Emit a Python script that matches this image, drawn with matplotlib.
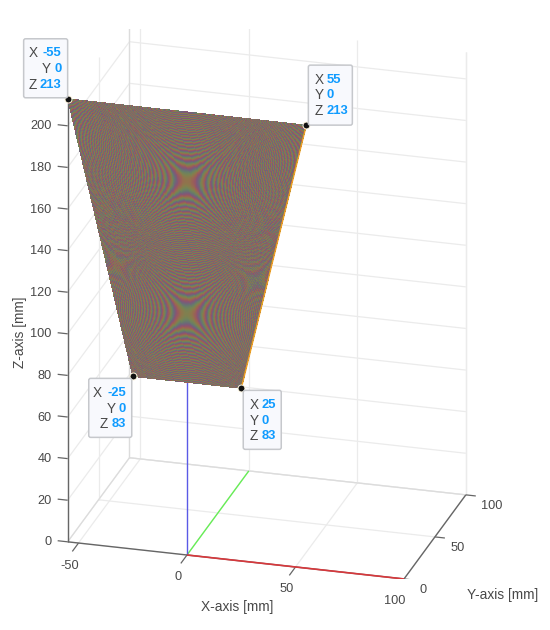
import numpy as np
import matplotlib
matplotlib.use("Agg")
import matplotlib.pyplot as plt
from matplotlib.patches import FancyBboxPatch
from matplotlib.transforms import Affine2D
from mpl_toolkits.mplot3d import proj3d

plt.rcParams['font.family'] = ['Liberation Sans', 'DejaVu Sans']

# data
x_ticks = [-50, 0, 50, 100]
y_ticks = [0, 50, 100]
z_ticks = [0, 20, 40, 60, 80, 100, 120, 140, 160, 180, 200]
x_lim = (-55, 100)
y_lim = (0, 100)
z_lim = (0, 213)
tip_x = [-55, 55, -25, 25]
tip_y = [0, 0, 0, 0]
tip_z = [213, 213, 83, 83]
axis_len_x = 100
axis_len_y = 100
axis_len_z = 83

W, H = 550, 630
fig = plt.figure(figsize=(W / 100, H / 100), dpi=100)
ax = fig.add_axes([0, 0, 1, 1], projection='3d', proj_type='ortho', computed_zorder=False)
ax.view_init(elev=22.8, azim=-74.1)
ax.set_xlim(*x_lim, view_margin=0)
ax.set_ylim(*y_lim, view_margin=0)
ax.set_zlim(*z_lim, view_margin=0)
aspect = (x_lim[1] - x_lim[0], y_lim[1] - y_lim[0], z_lim[1] - z_lim[0])
ax.set_box_aspect(aspect)
ax.set_axis_off()


def to_px(x, y, z):
    ax.apply_aspect()
    xs, ys, _ = proj3d.proj_transform(x, y, z, ax.get_proj())
    d = ax.transData.transform((xs, ys))
    return d[0], H - d[1]


# fit the orthographic box to the page
p0, p1 = to_px(0, 0, 0), to_px(100, 0, 0)
ax.set_box_aspect(aspect, zoom=217.0 / (p1[0] - p0[0]))
p0 = to_px(0, 0, 0)
ax.set_position([(187 - p0[0]) / W, (p0[1] - 555) / H, 1, 1])

GRID = '#ebebeb'
EDGE = '#dcdcdc'
AXC = '#666666'
TXT = '#484848'
x0, x1 = x_lim
y0, y1 = y_lim
z0, z1 = z_lim


def line(xs, ys, zs, c, lw=0.9, zo=1):
    ax.plot(xs, ys, zs, color=c, lw=lw, zorder=zo, solid_capstyle='butt')


for x in x_ticks:
    line([x, x], [y0, y1], [z0, z0], GRID)
    line([x, x], [y1, y1], [z0, z1], GRID)
for y in y_ticks:
    line([x0, x1], [y, y], [z0, z0], GRID)
    line([x0, x0], [y, y], [z0, z1], GRID)
for z in z_ticks:
    line([x0, x1], [y1, y1], [z, z], GRID)
    line([x0, x0], [y0, y1], [z, z], GRID)
line([x0, x1], [y1, y1], [z0, z0], EDGE)
line([x0, x0], [y0, y1], [z0, z0], EDGE)
line([x0, x0], [y1, y1], [z0, z1], EDGE)
line([x1, x1], [y1, y1], [z0, z1], GRID)

# coordinate axes
line([0, 0], [0, axis_len_y], [0, 0], '#66ee55', 1.0, 2)
line([0, 0], [0, 0], [0, axis_len_z], '#5a5ae6', 1.0, 2)

# box axes and ticks
line([x0, x1], [y0, y0], [z0, z0], AXC, 1.0, 3)
line([x1, x1], [y0, y1], [z0, z0], AXC, 1.0, 3)
line([x0, x0], [y0, y0], [z0, z1], AXC, 1.0, 3)
line([0, axis_len_x], [0, 0], [0, 0], '#d8383c', 1.2, 4)
for x in x_ticks:
    line([x, x], [y0, y0 - 10], [z0, z0], AXC, 0.9, 3)
for y in y_ticks:
    line([x1, x1 + 4.6], [y, y], [z0, z0], AXC, 0.9, 3)
for z in z_ticks:
    line([x0, x0 - 4.6], [y0, y0], [z, z], AXC, 0.9, 3)

# trapezoid face with its interference texture (appearance only)
n_r, n_c = 285, 250
zz = np.linspace(tip_z[2], tip_z[0], n_r + 1)
half = tip_x[3] + (zz - tip_z[3]) / (tip_z[1] - tip_z[3]) * (tip_x[1] - tip_x[3])
ss = np.linspace(-1, 1, n_c + 1)
X = np.outer(half, ss)
Z = np.repeat(zz[:, None], n_c + 1, axis=1)
Y = np.zeros_like(X)
i = 2.17 * X
j = 2.075 * (Z - 116)
P = 125.0
phase = np.pi * (i ** 2 - j ** 2) / P
base = np.array([128, 108, 98]) / 255
amp = np.array([24, 22, 22]) / 255
fc = np.ones(X.shape + (4,))
for k in range(3):
    fc[..., k] = np.clip(base[k] + amp[k] * np.sin(phase + k * 2 * np.pi / 3), 0, 1)
ax.plot_surface(X, Y, Z, facecolors=fc, rstride=1, cstride=1, shade=False,
                antialiased=False, linewidth=0, zorder=5)
line([tip_x[3], tip_x[1]], [0, 0], [tip_z[3], tip_z[1]], '#f0a020', 1.0, 6)

PX = Affine2D().scale(1, -1).translate(0, H)


def txt(px, py, s, **kw):
    kw.setdefault('color', TXT)
    kw.setdefault('fontsize', 9.2)
    kw.setdefault('va', 'center')
    kw.setdefault('zorder', 8)
    fig.text(px, py, s, transform=PX, **kw)


for z in z_ticks:
    p = to_px(x0, y0, z)
    txt(p[0] - 16, p[1] + 0.5, str(z), ha='right')
for x in x_ticks:
    p = to_px(x, y0, z0)
    txt(p[0] - 9, p[1] + 22.5, str(x), ha='center')
for y in y_ticks:
    p = to_px(x1, y, z0)
    txt(p[0] + 15.5, p[1] + 11, str(y), ha='left')

txt(237, 607, 'X-axis [mm]', ha='center', fontsize=9.9)
txt(502.5, 595, 'Y-axis [mm]', ha='center', fontsize=9.9)
txt(20, 332, 'Z-axis [mm]', ha='center', rotation=90, fontsize=9.9)

# data tips: box offset from its point (left, top, right, bottom), and alignment
tip_boxes = [(-44, -60, 0, -1, 'right'),
             (2, -60, 46, 0, 'left'),
             (-44, 2, -1, 61, 'right'),
             (2, 2, 40, 61, 'left')]
BLUE = '#0f9bff'
for tx, ty, tz, (l, t, r, b, al) in zip(tip_x, tip_y, tip_z, tip_boxes):
    p = to_px(tx, ty, tz)
    ax.plot([tx], [ty], [tz], 'o', ms=5, mfc='#111111', mec='#fff8e0', mew=0.7, zorder=9)
    box = FancyBboxPatch((p[0] + l + 1.5, p[1] + t + 1.5), r - l - 3, b - t - 3,
                         boxstyle='round,pad=1.5,rounding_size=2', transform=PX,
                         fc='#f8f9fd', ec='#c6c8cc', lw=1.1, zorder=7)
    fig.add_artist(box)
    names = ['X', 'Y', 'Z']
    vals = [tx, ty, tz]
    for n, (nm, v) in enumerate(zip(names, vals)):
        yy = p[1] + t + 14.5 + n * 15.7
        if al == 'right':
            right = p[0] + r - 6
            s = str(v)
            vw = {'-55': 20, '-25': 20, '0': 7, '83': 14, '213': 21.5}[s]
            txt(right, yy, s, ha='right', color=BLUE, fontweight='bold', fontsize=9.4)
            txt(right - vw - 3.5, yy, nm, ha='right', fontsize=9.8)
        else:
            left = p[0] + l + 6
            txt(left, yy, nm, ha='left', fontsize=9.8)
            txt(left + 12.5, yy, str(v), ha='left', color=BLUE, fontweight='bold', fontsize=9.4)

fig.savefig('out.png', dpi=100)
